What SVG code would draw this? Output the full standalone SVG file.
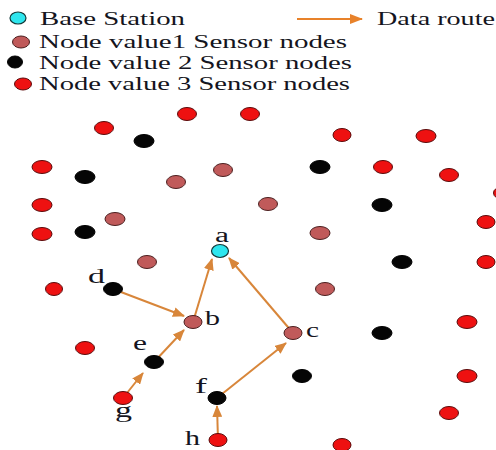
<svg xmlns="http://www.w3.org/2000/svg" width="496" height="450" viewBox="0 0 496 450">
<style>
text{font-family:"Liberation Serif","Times New Roman",serif;fill:#141420}
.leg{font-size:19px}
.lbl{font-size:20px}
.r{fill:#ee1111;stroke:#5a0a0a;stroke-width:1}
.br{fill:#c05a5a;stroke:#4a1e1e;stroke-width:1}
.k{fill:#050505;stroke:#000;stroke-width:1}
.cy{fill:#2ee6ee;stroke:#143838;stroke-width:1.2}
.route{stroke:#d8863a;stroke-width:2;fill:none;marker-end:url(#ah)}
</style>
<defs>
<marker id="ah" markerUnits="userSpaceOnUse" markerWidth="12" markerHeight="10" refX="11" refY="5" orient="auto">
<path d="M0,0 L12,5 L0,10 Z" fill="#d8863a"/>
</marker>
<marker id="ah2" markerUnits="userSpaceOnUse" markerWidth="13" markerHeight="10" refX="12" refY="5" orient="auto">
<path d="M0,0 L13,5 L0,10 Z" fill="#e8822a"/>
</marker>
</defs>
<rect width="496" height="450" fill="#ffffff"/>

<g id="legend">
<ellipse class="cy" cx="18" cy="18" rx="8" ry="6"/>
<text class="leg" x="40" y="25" textLength="145" lengthAdjust="spacingAndGlyphs">Base Station</text>
<ellipse class="br" cx="21" cy="42" rx="8.5" ry="6"/>
<text class="leg" x="39" y="48" textLength="308" lengthAdjust="spacingAndGlyphs">Node value1 Sensor nodes</text>
<ellipse class="k" cx="15" cy="62" rx="7.5" ry="6"/>
<text class="leg" x="39" y="69" textLength="313" lengthAdjust="spacingAndGlyphs">Node value 2 Sensor nodes</text>
<ellipse class="r" cx="23" cy="84" rx="8.5" ry="6"/>
<text class="leg" x="39" y="90" textLength="311" lengthAdjust="spacingAndGlyphs">Node value 3 Sensor nodes</text>
<line x1="297" y1="19" x2="362" y2="19" stroke="#e8822a" stroke-width="2" marker-end="url(#ah2)"/>
<text class="leg" x="377" y="25" textLength="118" lengthAdjust="spacingAndGlyphs">Data route</text>
</g>

<g id="connectors">
<line class="route" x1="113" y1="289" x2="184" y2="316"/>
<line class="route" x1="193" y1="322" x2="212" y2="259"/>
<line class="route" x1="123" y1="398" x2="143" y2="373"/>
<line class="route" x1="154" y1="362" x2="184" y2="330"/>
<line class="route" x1="218" y1="440" x2="217" y2="406"/>
<line class="route" x1="217" y1="398" x2="286" y2="343"/>
<line class="route" x1="293" y1="333" x2="229" y2="258"/>
</g>

<g id="node-a"><ellipse class="cy" cx="220" cy="251" rx="8.5" ry="6.5"/><text class="lbl" x="215" y="242" textLength="14" lengthAdjust="spacingAndGlyphs">a</text></g>
<g id="node-b"><ellipse class="br" cx="193" cy="322" rx="9" ry="6.5"/><text class="lbl" x="205" y="325" textLength="15" lengthAdjust="spacingAndGlyphs">b</text></g>
<g id="node-c"><ellipse class="br" cx="293" cy="333" rx="9" ry="6.5"/><text class="lbl" x="306" y="337" textLength="13" lengthAdjust="spacingAndGlyphs">c</text></g>
<g id="node-d"><ellipse class="k" cx="113" cy="289" rx="9.5" ry="6.5"/><text class="lbl" x="88" y="283" textLength="17" lengthAdjust="spacingAndGlyphs">d</text></g>
<g id="node-e"><ellipse class="k" cx="154" cy="362" rx="9.5" ry="6.5"/><text class="lbl" x="133" y="350" textLength="14" lengthAdjust="spacingAndGlyphs">e</text></g>
<g id="node-f"><ellipse class="k" cx="217" cy="398" rx="9" ry="6.5"/><text class="lbl" x="195" y="393" textLength="12" lengthAdjust="spacingAndGlyphs">f</text></g>
<g id="node-g"><ellipse class="r" cx="123" cy="398" rx="9.5" ry="6.5"/><text class="lbl" x="115" y="417" textLength="17" lengthAdjust="spacingAndGlyphs">g</text></g>
<g id="node-h"><ellipse class="r" cx="218" cy="440" rx="9" ry="6.5"/><text class="lbl" x="185" y="445" textLength="15" lengthAdjust="spacingAndGlyphs">h</text></g>

<g id="red-nodes">
<ellipse class="r" cx="104" cy="128" rx="9.5" ry="6.5"/>
<ellipse class="r" cx="187" cy="114" rx="9.5" ry="6.5"/>
<ellipse class="r" cx="250" cy="114" rx="9.5" ry="6.5"/>
<ellipse class="r" cx="342" cy="135" rx="9" ry="6.5"/>
<ellipse class="r" cx="426" cy="136" rx="10" ry="6.5"/>
<ellipse class="r" cx="42" cy="167" rx="10" ry="6.5"/>
<ellipse class="r" cx="383" cy="167" rx="9.5" ry="6.5"/>
<ellipse class="r" cx="449" cy="175" rx="9.5" ry="6.5"/>
<ellipse class="r" cx="503" cy="193" rx="9.5" ry="6.5"/>
<ellipse class="r" cx="42" cy="205" rx="10" ry="6.5"/>
<ellipse class="r" cx="42" cy="234" rx="10" ry="6.5"/>
<ellipse class="r" cx="486" cy="222" rx="9" ry="6.5"/>
<ellipse class="r" cx="486" cy="262" rx="9" ry="6.5"/>
<ellipse class="r" cx="54" cy="289" rx="8.5" ry="6.5"/>
<ellipse class="r" cx="85" cy="348" rx="9.5" ry="6.5"/>
<ellipse class="r" cx="467" cy="322" rx="10" ry="6.5"/>
<ellipse class="r" cx="467" cy="376" rx="10" ry="6.5"/>
<ellipse class="r" cx="449" cy="413" rx="9.5" ry="6.5"/>
<ellipse class="r" cx="342" cy="445" rx="9" ry="6.5"/>
</g>

<g id="black-nodes">
<ellipse class="k" cx="144" cy="141" rx="10" ry="6.5"/>
<ellipse class="k" cx="85" cy="177" rx="10" ry="6.5"/>
<ellipse class="k" cx="320" cy="167" rx="10" ry="6.5"/>
<ellipse class="k" cx="382" cy="205" rx="10" ry="6.5"/>
<ellipse class="k" cx="85" cy="232" rx="10" ry="6.5"/>
<ellipse class="k" cx="402" cy="262" rx="10" ry="6.5"/>
<ellipse class="k" cx="382" cy="333" rx="10" ry="6.5"/>
<ellipse class="k" cx="302" cy="376" rx="9.5" ry="6.5"/>
</g>

<g id="brown-nodes">
<ellipse class="br" cx="176" cy="182" rx="9.5" ry="6.5"/>
<ellipse class="br" cx="223" cy="170" rx="9.5" ry="6.5"/>
<ellipse class="br" cx="115" cy="219" rx="10" ry="6.5"/>
<ellipse class="br" cx="268" cy="204" rx="9.5" ry="6.5"/>
<ellipse class="br" cx="320" cy="233" rx="10" ry="6.5"/>
<ellipse class="br" cx="147" cy="262" rx="9.5" ry="6.5"/>
<ellipse class="br" cx="325" cy="289" rx="9.5" ry="6.5"/>
</g>
</svg>
